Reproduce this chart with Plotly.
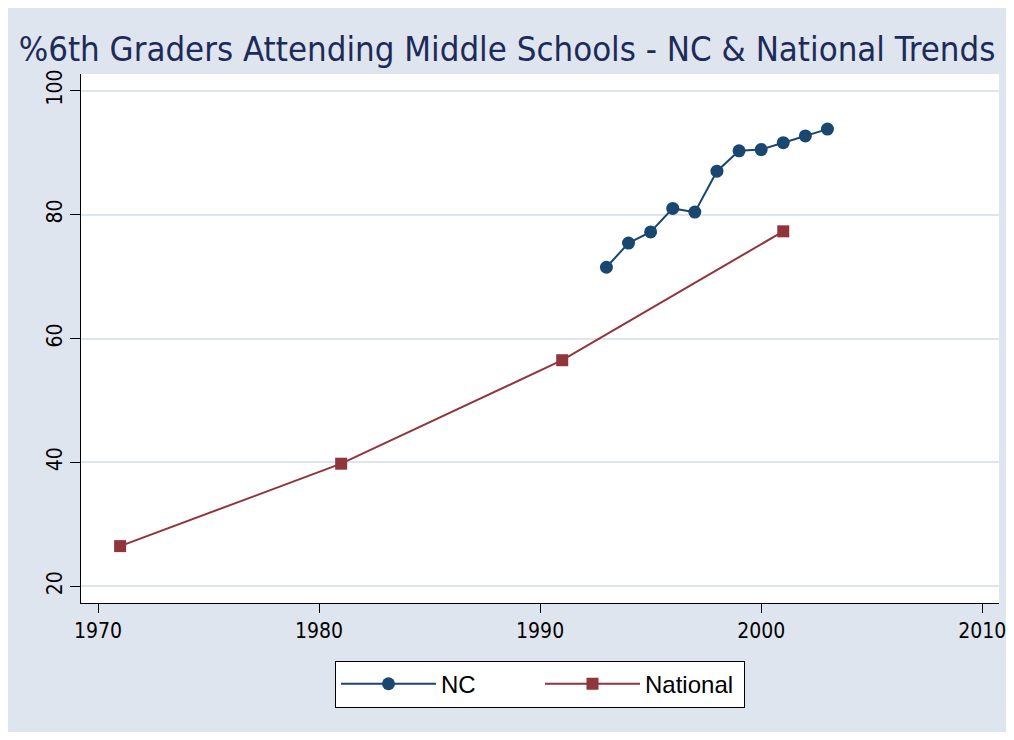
import plotly.graph_objects as go

nc_years = [1993, 1994, 1995, 1996, 1997, 1998, 1999, 2000, 2001, 2002, 2003]
nc_values = [71.5, 75.4, 77.2, 81.0, 80.4, 87.0, 90.3, 90.5, 91.6, 92.7, 93.8]

nat_years = [1971, 1981, 1991, 2001]
nat_values = [26.5, 39.8, 56.5, 77.3]

x_ticks = [1970, 1980, 1990, 2000, 2010]
y_ticks = [20, 40, 60, 80, 100]

title_text = "%6th Graders Attending Middle Schools - NC &amp; National Trends"

NAVY = "#1A476F"
MAROON = "#90353B"
BG = "#DFE5EF"
GRID = "#DFE5EF"
FONT = "Liberation Sans Narrow, Arial Narrow, DejaVu Sans Condensed, Liberation Sans, sans-serif"

fig = go.Figure()
fig.add_trace(go.Scatter(
    x=nc_years, y=nc_values, mode="lines+markers", name="NC",
    line=dict(color=NAVY, width=2),
    marker=dict(symbol="circle", size=13, color=NAVY),
))
fig.add_trace(go.Scatter(
    x=nat_years, y=nat_values, mode="lines+markers", name="National",
    line=dict(color=MAROON, width=2),
    marker=dict(symbol="square", size=12, color=MAROON),
))

fig.update_layout(
    width=998, height=724,
    paper_bgcolor=BG, plot_bgcolor="white",
    margin=dict(l=73, r=7, t=66, b=129),
    font=dict(family=FONT, color="black", size=21),
    title=dict(text=title_text, x=0.5, xanchor="center", y=0.943, yanchor="middle",
               font=dict(family=FONT, size=34.5, color="#1C2B58")),
    showlegend=True,
    legend=dict(orientation="h", x=0.5, xanchor="center", y=-0.109, yanchor="top",
                bgcolor="white", bordercolor="black", borderwidth=1,
                font=dict(family="Liberation Sans, Arial, sans-serif", size=24),
                itemwidth=95, entrywidth=94, itemsizing="trace"),
    xaxis=dict(range=[1969.23, 2010.76], tickvals=x_ticks, showgrid=False,
               showline=True, linecolor="black", linewidth=1, ticks="outside",
               ticklen=9, tickcolor="black", zeroline=False,
               ticklabeloverflow="allow", automargin=False),
    yaxis=dict(range=[17.32, 102.69], tickvals=y_ticks, showgrid=True,
               gridcolor=GRID, gridwidth=2, tickangle=-90,
               showline=True, linecolor="black", linewidth=1, ticks="outside",
               ticklen=10, tickcolor="black", zeroline=False, automargin=False),
)

fig.write_html("out.html")
